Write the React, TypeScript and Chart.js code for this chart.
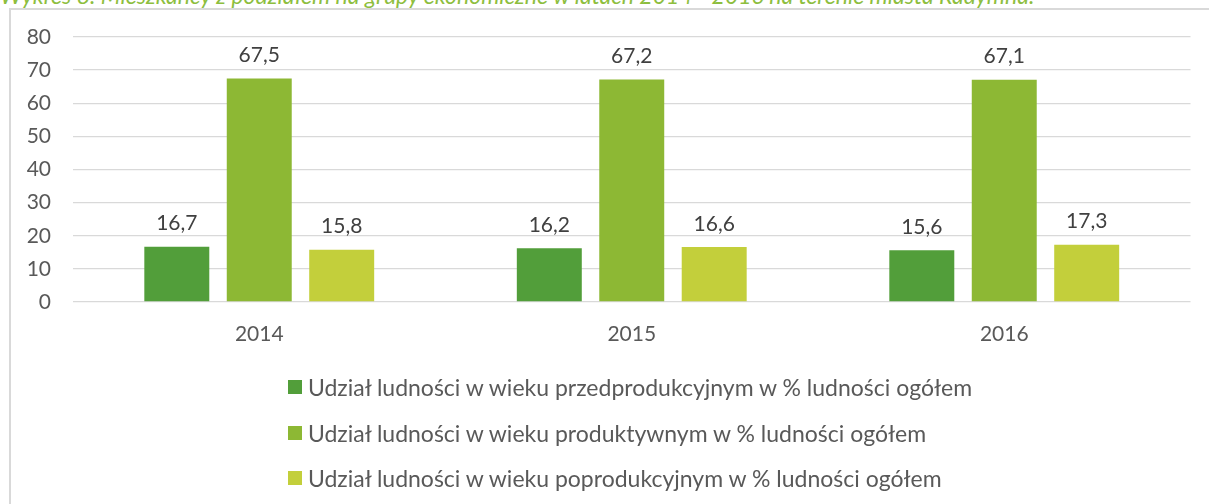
import React, { useEffect, useRef } from "react";
import { Chart, registerables } from "chart.js";

Chart.register(...registerables);

const titleText =
  "Wykres 8. Mieszkańcy z podziałem na grupy ekonomiczne w latach 2014 - 2016 na terenie miasta Radymna.";
const categories = ["2014", "2015", "2016"];
const seriesNames = [
  "Udział ludności w wieku przedprodukcyjnym w % ludności ogółem",
  "Udział ludności w wieku produktywnym w % ludności ogółem",
  "Udział ludności w wieku poprodukcyjnym w % ludności ogółem",
];
const preProductive = [16.7, 16.2, 15.6];
const productive = [67.5, 67.2, 67.1];
const postProductive = [15.8, 16.6, 17.3];
const seriesColors = ["#529E3A", "#8DB834", "#C3CF3B"];
const yTicks = [0, 10, 20, 30, 40, 50, 60, 70, 80];

const FONT = "Lato, 'Open Sans', sans-serif";

const valueLabels = {
  id: "valueLabels",
  afterDatasetsDraw(chart: any) {
    const ctx = chart.ctx;
    ctx.save();
    ctx.font = `21px ${FONT}`;
    ctx.fillStyle = "#404040";
    ctx.textAlign = "center";
    ctx.textBaseline = "middle";
    chart.data.datasets.forEach((ds: any, i: number) => {
      const meta = chart.getDatasetMeta(i);
      meta.data.forEach((el: any, j: number) => {
        const v = ds.data[j];
        ctx.fillText(String(v.toFixed(1)).replace(".", ","), el.x, el.y - 23);
      });
    });
    ctx.restore();
  },
};

export default function App() {
  const ref = useRef<HTMLCanvasElement>(null);
  useEffect(() => {
    if (!ref.current) return;
    const values = [preProductive, productive, postProductive];
    const chart = new Chart(ref.current, {
      type: "bar",
      data: {
        labels: categories,
        datasets: values.map((d, i) => ({
          label: seriesNames[i],
          data: d,
          backgroundColor: seriesColors[i],
          borderWidth: 0,
          categoryPercentage: 0.664,
          barPercentage: 0.788,
        })),
      },
      options: {
        animation: false,
        responsive: false,
        maintainAspectRatio: false,
        devicePixelRatio: 1,
        layout: { padding: { left: 0, top: 37, right: 18.5, bottom: 142 } },
        plugins: { legend: { display: false }, tooltip: { enabled: false }, title: { display: false } },
        scales: {
          x: {
            grid: { display: false, drawTicks: false },
            border: { display: false },
            ticks: { color: "#595959", font: { family: FONT, size: 21 }, padding: 20 },
            afterFit: (s: any) => {
              s.height = 60;
            },
          },
          y: {
            min: 0,
            max: 80,
            afterBuildTicks: (s: any) => {
              s.ticks = yTicks.map((v) => ({ value: v }));
            },
            grid: { color: "#D9D9D9", lineWidth: 1.3, drawTicks: false },
            border: { display: false },
            ticks: { color: "#595959", font: { family: FONT, size: 21 }, padding: 22 },
            afterFit: (s: any) => {
              s.width = 73;
            },
          },
        },
      },
      plugins: [valueLabels],
    });
    return () => chart.destroy();
  }, []);

  return (
    <div style={{ position: "fixed", left: 0, top: 0, width: 1209, height: 504, background: "#fff", overflow: "hidden" }}>
      <div
        style={{
          position: "absolute",
          left: 9,
          top: 8,
          width: 1220,
          height: 520,
          borderLeft: "2px solid #D9D9D9",
          borderTop: "2px solid #D9D9D9",
        }}
      />
      <div
        style={{
          position: "absolute",
          left: 0,
          top: -16,
          fontFamily: FONT,
          fontStyle: "italic",
          fontSize: 23,
          lineHeight: "23px",
          color: "#8DBE3E",
          whiteSpace: "nowrap",
        }}
      >
        {titleText}
      </div>
      <canvas ref={ref} width={1209} height={504} style={{ position: "absolute", left: 0, top: 0, width: 1209, height: 504 }} />
      {seriesNames.map((name, i) => (
        <div
          key={name}
          style={{
            position: "absolute",
            left: 288,
            top: 387 + i * 45.5 - 15,
            height: 30,
            display: "flex",
            alignItems: "center",
            fontFamily: FONT,
            fontSize: 23,
            color: "#595959",
            whiteSpace: "nowrap",
          }}
        >
          <span style={{ display: "inline-block", width: 14, height: 14, background: seriesColors[i], marginRight: 6, flexShrink: 0 }} />
          <span>{name}</span>
        </div>
      ))}
    </div>
  );
}
